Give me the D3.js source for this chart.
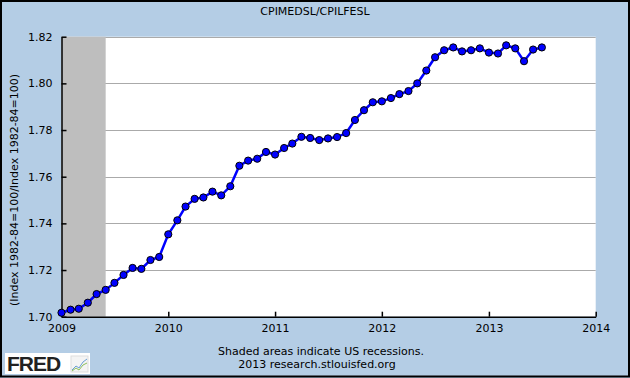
<!DOCTYPE html>
<html>
<head>
<meta charset="utf-8">
<script src="https://cdn.jsdelivr.net/npm/d3@7"></script>
<style>
  body { margin: 0; background: #fff; }
  svg { display: block; font-family: "DejaVu Sans", Verdana, sans-serif; }
</style>
</head>
<body>
<div id="chart"></div>
<script>
// monthly ratio CPIMEDSL / CPILFESL, Jan 2009 .. Jul 2013
const startMonth = "2009-01";
const ratioValues = [
  1.7017, 1.7030, 1.7034, 1.7060, 1.7097, 1.7115, 1.7145, 1.7179, 1.7209, 1.7205, 1.7243, 1.7256,
  1.7353, 1.7413, 1.7472, 1.7505, 1.7511, 1.7536, 1.7520, 1.7559, 1.7647, 1.7669, 1.7677, 1.7706,
  1.7695, 1.7723, 1.7742, 1.7771, 1.7766, 1.7757, 1.7764, 1.7770, 1.7787, 1.7843, 1.7885, 1.7919,
  1.7923, 1.7937, 1.7954, 1.7967, 1.8000, 1.8055, 1.8112, 1.8142, 1.8154, 1.8137, 1.8142, 1.8150,
  1.8132, 1.8128, 1.8163, 1.8150, 1.8095, 1.8145, 1.8154
];
const yTicks = [1.70, 1.72, 1.74, 1.76, 1.78, 1.80, 1.82];
const xTickYears = [2009, 2010, 2011, 2012, 2013, 2014];
const recessions = [["2009-01-01", "2009-06-01"]];

const W = 630, H = 378;
const plot = { left: 61.5, right: 595.7, top: 36.7, bottom: 316.7 };

const parse = d3.timeParse("%Y-%m-%d");
const start = d3.timeParse("%Y-%m")(startMonth);
const data = ratioValues.map((v, i) => ({ date: d3.timeMonth.offset(start, i), value: v }));

const svg = d3.select("#chart").append("svg")
  .attr("width", W)
  .attr("height", H);

// background + frame
svg.append("rect")
  .attr("x", 0).attr("y", 0).attr("width", W).attr("height", H)
  .attr("fill", "#b4cde5");
svg.append("rect")
  .attr("x", 1).attr("y", 1).attr("width", W - 2).attr("height", H - 2.5)
  .attr("fill", "none").attr("stroke", "#000").attr("stroke-width", 2);

const x = d3.scaleTime()
  .domain([new Date(2009, 0, 1), new Date(2014, 0, 1)])
  .range([plot.left, plot.right]);

const y = d3.scaleLinear()
  .domain([1.70, 1.82])
  .range([plot.bottom, plot.top]);

// plot area
svg.append("rect")
  .attr("x", plot.left).attr("y", plot.top)
  .attr("width", plot.right - plot.left).attr("height", plot.bottom - plot.top)
  .attr("fill", "#fff");

// gridlines
svg.append("g")
  .selectAll("line")
  .data(yTicks.slice(1))
  .enter().append("line")
  .attr("x1", plot.left).attr("x2", plot.right)
  .attr("y1", d => Math.round(y(d)) + 0.5).attr("y2", d => Math.round(y(d)) + 0.5)
  .attr("stroke", "#aaaaaa").attr("stroke-width", 1);

// recession shading
svg.append("g")
  .selectAll("rect")
  .data(recessions)
  .enter().append("rect")
  .attr("x", d => x(parse(d[0])))
  .attr("y", plot.top)
  .attr("width", d => x(parse(d[1])) - x(parse(d[0])))
  .attr("height", plot.bottom - plot.top)
  .attr("fill", "#bebebe");

// axes
const yAxis = svg.append("g")
  .attr("transform", `translate(${plot.left},0)`)
  .call(d3.axisLeft(y).tickValues(yTicks).tickFormat(d3.format(".2f"))
    .tickSizeInner(-5).tickSizeOuter(0).tickPadding(9));
yAxis.select(".domain").attr("stroke", "#000").attr("stroke-width", 1.5);
yAxis.selectAll(".tick line").attr("stroke", "#000").attr("stroke-width", 1.5);
yAxis.selectAll(".tick text").attr("font-size", "11px").attr("fill", "#000")
  .attr("font-family", "DejaVu Sans, Verdana, sans-serif");

const xAxis = svg.append("g")
  .attr("transform", `translate(0,${plot.bottom})`)
  .call(d3.axisBottom(x).tickValues(xTickYears.map(yr => new Date(yr, 0, 1)))
    .tickFormat(d3.timeFormat("%Y")).tickSizeInner(-5).tickSizeOuter(0).tickPadding(8));
xAxis.select(".domain").attr("stroke", "#000").attr("stroke-width", 1.5);
xAxis.selectAll(".tick line").attr("stroke", "#000").attr("stroke-width", 1.5);
xAxis.selectAll(".tick text").attr("font-size", "11px").attr("fill", "#000")
  .attr("font-family", "DejaVu Sans, Verdana, sans-serif");

// series line + markers
const line = d3.line()
  .x(d => x(d.date))
  .y(d => y(d.value));

svg.append("path")
  .datum(data)
  .attr("d", line)
  .attr("fill", "none")
  .attr("stroke", "#0000ff")
  .attr("stroke-width", 2.5);

svg.append("g")
  .selectAll("circle")
  .data(data)
  .enter().append("circle")
  .attr("cx", d => x(d.date))
  .attr("cy", d => y(d.value))
  .attr("r", 3.6)
  .attr("fill", "#0000ff")
  .attr("stroke", "#000")
  .attr("stroke-width", 1);

// title
svg.append("text")
  .attr("x", 315).attr("y", 15)
  .attr("text-anchor", "middle")
  .attr("font-size", "11px")
  .text("CPIMEDSL/CPILFESL");

// y axis label
svg.append("text")
  .attr("transform", "translate(18,190) rotate(-90)")
  .attr("text-anchor", "middle")
  .attr("font-size", "11px")
  .text("(Index 1982-84=100/Index 1982-84=100)");

// footer
svg.append("text")
  .attr("x", 321).attr("y", 355)
  .attr("text-anchor", "middle")
  .attr("font-size", "11px")
  .text("Shaded areas indicate US recessions.");
svg.append("text")
  .attr("x", 317).attr("y", 368)
  .attr("text-anchor", "middle")
  .attr("font-size", "11px")
  .text("2013 research.stlouisfed.org");

// FRED logo
const logo = svg.append("g").attr("transform", "translate(5,353)");
logo.append("rect").attr("width", 85).attr("height", 21).attr("fill", "#fff");
logo.append("text")
  .attr("x", 2).attr("y", 18)
  .attr("font-family", "Liberation Sans, Arial, sans-serif")
  .attr("font-weight", "bold")
  .attr("font-size", "21px")
  .attr("letter-spacing", "-1")
  .attr("fill", "#222")
  .text("FRED");
logo.append("rect").attr("x", 66).attr("y", 3).attr("width", 17).attr("height", 16)
  .attr("fill", "#f4f4f4").attr("stroke", "#ddd");
logo.append("path")
  .attr("d", "M67,17 L71,13 L74,15 L78,9 L82,6")
  .attr("fill", "none").attr("stroke", "#6a9fd4").attr("stroke-width", 1);
logo.append("path")
  .attr("d", "M67,18 L71,15 L74,17 L78,12 L82,10")
  .attr("fill", "none").attr("stroke", "#8cbf5a").attr("stroke-width", 1);
</script>
</body>
</html>
